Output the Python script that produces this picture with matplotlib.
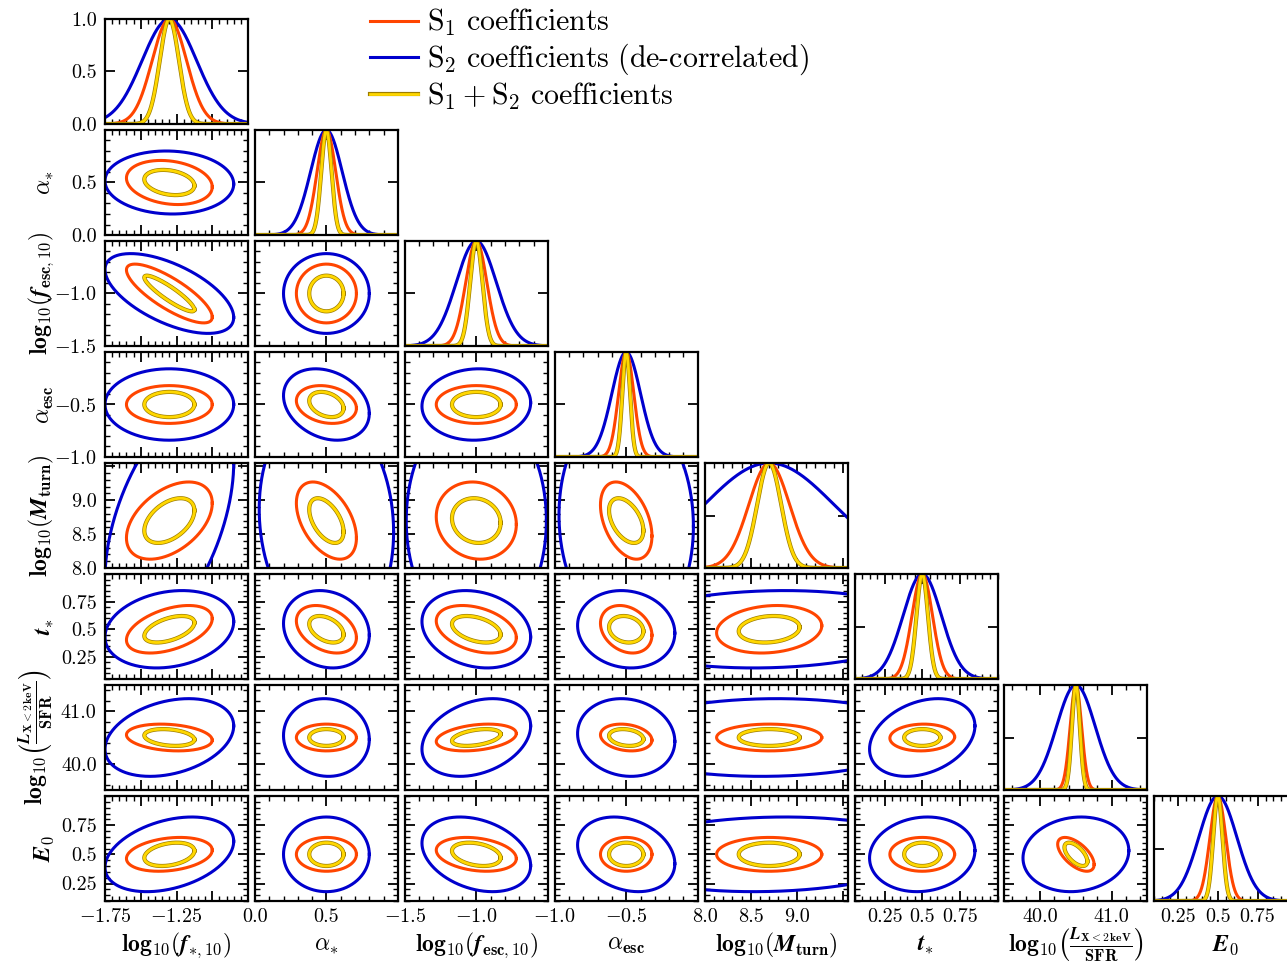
import numpy as np
import matplotlib
matplotlib.use('Agg')
import matplotlib.pyplot as plt
import matplotlib.patheffects as pe
from matplotlib.ticker import FixedLocator, FixedFormatter, MultipleLocator
from matplotlib.lines import Line2D
from matplotlib.mathtext import MathTextParser

plt.rcParams['font.family'] = 'serif'
plt.rcParams['font.serif'] = ['cmr10']
plt.rcParams['mathtext.fontset'] = 'cm'
plt.rcParams['axes.formatter.use_mathtext'] = True

# bold italic for symbols if mathtext knows it
try:
    MathTextParser('path').parse(r'$\mathbfit{f}$')
    BI = r'\mathbfit'
except Exception:
    BI = r'\mathit'

# ---- parameters -------------------------------------------------------
labels = [
    r'$\mathbf{log_{10}}(%s{f}_{\ast,\mathbf{10}})$' % BI,
    r'$\alpha_{\ast}$',
    r'$\mathbf{log_{10}}(%s{f}_{\mathbf{esc,10}})$' % BI,
    r'$\alpha_{\mathbf{esc}}$',
    r'$\mathbf{log_{10}}(%s{M}_{\mathbf{turn}})$' % BI,
    r'$%s{t}_{\ast}$' % BI,
    r'$\mathbf{log_{10}}\left(\frac{%s{L}_{\mathbf{X<2\,keV}}}{\mathbf{SFR}}\right)$' % BI,
    r'$%s{E}_{\mathbf{0}}$' % BI,
]
mu = [-1.3, 0.5, -1.0, -0.5, 8.7, 0.5, 40.5, 0.5]
lo = [-1.75, 0.0, -1.5, -1.0, 8.0, 0.05, 39.5, 0.1]
hi = [-0.75, 1.0, -0.5, 0.0, 9.55, 1.0, 41.5, 1.0]

major_ticks = [[-1.75, -1.5, -1.25, -1.0, -0.75], [0.0, 0.5, 1.0], [-1.5, -1.0, -0.5],
               [-1.0, -0.5, 0.0], [8.0, 8.5, 9.0, 9.5], [0.25, 0.5, 0.75],
               [40.0, 41.0], [0.25, 0.5, 0.75]]
major_text = [[r'$-1.75$', '', r'$-1.25$', '', ''], ['0.0', '0.5', ''], [r'$-1.5$', r'$-1.0$', ''],
              [r'$-1.0$', r'$-0.5$', ''], ['8.0', '8.5', '9.0', ''], ['0.25', '0.5', '0.75'],
              ['40.0', '41.0'], ['0.25', '0.5', '0.75']]
minor_step = [0.05, 0.1, 0.1, 0.1, 0.1, 0.05, 0.2, 0.05]

# ---- 1-D widths (sigma) read from the diagonal ---------------------------
sig_s1 = [0.12, 0.065, 0.074, 0.053, 0.22, 0.068, 0.08, 0.05]
sig_s2 = [0.19, 0.11, 0.14, 0.10, 0.70, 0.127, 0.27, 0.12]
sig_s12 = [0.067, 0.036, 0.043, 0.027, 0.13, 0.038, 0.055, 0.029]

# ---- 2-D contour half-extents along each parameter -----------------------
ext_s1 = [0.30, 0.21, 0.28, 0.18, 0.57, 0.215, 0.255, 0.145]
ext_s2 = [0.45, 0.30, 0.38, 0.34, 1.70, 0.35, 0.74, 0.32]
ext_s12 = [0.175, 0.12, 0.17, 0.12, 0.33, 0.12, 0.16, 0.10]
# S2 contours in the M_turn row are wider than elsewhere
ext_s2_mturn_row = [0.45, 0.47, 0.49, 0.47]

# ---- correlations, lower triangle row by row -----------------------------
rho_s1 = [[-0.2],
          [-0.8, 0.0],
          [0.0, -0.2, 0.0],
          [0.45, -0.45, -0.1, -0.4],
          [0.45, -0.35, -0.35, -0.25, 0.15],
          [-0.2, 0.0, 0.3, -0.2, 0.0, 0.05],
          [0.25, 0.0, -0.25, 0.0, 0.0, 0.0, -0.6]]
rho_s2 = [[-0.05],
          [-0.6, 0.0],
          [0.0, -0.25, 0.05],
          [0.5, -0.1, 0.0, -0.05],
          [0.2, -0.15, -0.2, -0.1, 0.1],
          [0.3, -0.05, 0.3, -0.1, 0.05, 0.3],
          [0.35, 0.0, -0.3, -0.25, 0.1, 0.1, 0.1]]
rho_s12 = [[-0.25],
           [-0.9, 0.0],
           [0.0, -0.3, 0.0],
           [0.45, -0.5, -0.1, -0.45],
           [0.5, -0.4, -0.4, -0.15, 0.15],
           [-0.25, 0.0, 0.4, -0.2, 0.0, 0.0],
           [0.3, 0.0, -0.3, 0.0, 0.0, 0.0, -0.6]]

legend_text = [r'$\mathrm{S_1\ coefficients}$',
               r'$\mathrm{S_2\ coefficients\ (de}$-$\mathrm{correlated)}$',
               r'$\mathrm{S_1+S_2\ coefficients}$']

RED, BLUE, GOLD = '#ff4500', '#0000cd', '#ffd700'
gold_fx = [pe.Stroke(linewidth=3.0, foreground='#9c7c00'), pe.Normal()]
styles = {'s2': dict(color=BLUE, lw=2.2), 's1': dict(color=RED, lw=2.2),
          's12': dict(color=GOLD, lw=2.0, path_effects=gold_fx)}
sets = [('s2', sig_s2, ext_s2, rho_s2), ('s1', sig_s1, ext_s1, rho_s1),
        ('s12', sig_s12, ext_s12, rho_s12)]

n = len(mu)
W, H = 1287, 972
fig = plt.figure(figsize=(W / 100, H / 100), dpi=100)
x0, dx, aw = 105, 149.9, 143
y0, dy, ah = 19, 111, 105


def style_axis(axis, i, show):
    axis.set_major_locator(FixedLocator(major_ticks[i]))
    axis.set_major_formatter(FixedFormatter(major_text[i] if show else [''] * len(major_ticks[i])))
    axis.set_minor_locator(MultipleLocator(minor_step[i]))


def ellipse(ax, cx, cy, sx, sy, rho, **kw):
    t = np.linspace(0, 2 * np.pi, 400)
    x = cx + sx * np.cos(t)
    y = cy + sy * (rho * np.cos(t) + np.sqrt(1 - rho ** 2) * np.sin(t))
    ax.plot(x, y, **kw)


for r in range(n):
    for c in range(r + 1):
        ax = fig.add_axes([(x0 + c * dx) / W, 1 - (y0 + r * dy + ah) / H, aw / W, ah / H])
        ax.set_xlim(lo[c], hi[c])
        style_axis(ax.xaxis, c, r == n - 1)
        if r == c:
            xx = np.linspace(lo[c], hi[c], 500)
            for key, sig, ext, rho in sets:
                ax.plot(xx, np.exp(-0.5 * ((xx - mu[c]) / sig[c]) ** 2), **styles[key])
            ax.set_ylim(0, 1)
            ax.yaxis.set_major_locator(FixedLocator([0, 0.5, 1.0]))
            if r == 0:
                ax.yaxis.set_major_formatter(FixedFormatter(['0.0', '0.5', '1.0']))
            else:
                ax.yaxis.set_major_formatter(FixedFormatter(['', '', '']))
        else:
            ax.set_ylim(lo[r], hi[r])
            style_axis(ax.yaxis, r, c == 0)
            for key, sig, ext, rho in sets:
                sx = ext[c]
                if key == 's2' and r == 4:
                    sx = ext_s2_mturn_row[c]
                ellipse(ax, mu[c], mu[r], sx, ext[r], rho[r - 1][c], **styles[key])
        ax.tick_params(which='both', direction='in', top=True, right=True, labelsize=14.5)
        ax.tick_params(which='major', length=7, width=1.3, pad=5)
        ax.tick_params(which='minor', length=3.5, width=1.0)
        ax.tick_params(axis='y', which='major', pad=6)
        for s in ax.spines.values():
            s.set_linewidth(1.6)
        if c == 0 and r > 0:
            ax.set_ylabel(labels[r], fontsize=17)
            ax.yaxis.set_label_coords(-0.34, 0.5)
        if r == n - 1:
            ax.set_xlabel(labels[c], fontsize=17, va='center')
            ax.xaxis.set_label_coords(0.5, -0.42)

handles = [Line2D([], [], **styles['s1']), Line2D([], [], **styles['s2']),
           Line2D([], [], **styles['s12'])]
fig.legend(handles, legend_text, loc='upper left', bbox_to_anchor=(370 / W, 1 - 7 / H),
           frameon=False, fontsize=21.5, handlelength=1.6, handletextpad=0.3,
           labelspacing=0.12, borderpad=0, borderaxespad=0)

fig.savefig('out.png', dpi=100)
